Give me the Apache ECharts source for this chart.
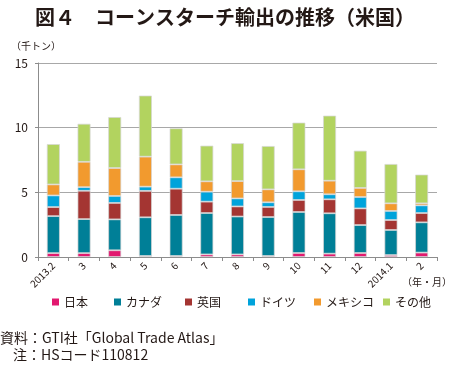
<!DOCTYPE html>
<html><head><meta charset="utf-8">
<script src="https://cdn.jsdelivr.net/npm/echarts@6/dist/echarts.min.js"></script>
<style>html,body{margin:0;padding:0;background:#fff}#c{width:450px;height:366px}</style>
</head><body><div id="c"></div>
<script>
const categories = ['2013.2','3','4','5','6','7','8','9','10','11','12','2014.1','2'];
const seriesNames = ['日本','カナダ','英国','ドイツ','メキシコ','その他'];
const japan   = [0.30, 0.30, 0.52, 0.08, 0.08, 0.20, 0.20, 0.08, 0.31, 0.26, 0.31, 0.15, 0.34];
const canada  = [2.86, 2.63, 2.39, 2.99, 3.17, 3.20, 2.93, 3.01, 3.17, 3.12, 2.16, 1.94, 2.34];
const uk      = [0.70, 2.19, 1.27, 2.04, 2.03, 0.88, 0.78, 0.78, 0.93, 1.08, 1.29, 0.77, 0.72];
const germany = [0.90, 0.28, 0.54, 0.33, 0.88, 0.77, 0.62, 0.36, 0.67, 0.39, 0.88, 0.70, 0.59];
const mexico  = [0.85, 1.96, 2.16, 2.32, 1.00, 0.80, 1.34, 1.00, 1.70, 1.05, 0.70, 0.59, 0.16];
const others  = [3.12, 2.94, 3.94, 4.72, 2.79, 2.76, 2.93, 3.35, 3.61, 5.03, 2.88, 3.04, 2.22];
const yMin = 0, yMax = 15, yInterval = 5;

const seriesValues = [japan, canada, uk, germany, mexico, others];
const colors = ['#e2186f','#007f97','#a43532','#00a3db','#f29a2e','#b2d35f'];
const FONT = '"Noto Sans CJK JP","Noto Sans",sans-serif';
const legendLefts = [52, 114, 185, 248, 314, 383];

const chart = echarts.init(document.getElementById('c'), null, {renderer:'canvas'});
chart.setOption({
  animation: false,
  textStyle: {fontFamily: FONT},
  title: {
    text: '図４　コーンスターチ輸出の推移（米国）',
    left: 'center', top: 2,
    textStyle: {fontFamily: FONT, fontSize: 20, fontWeight: 'bold', color: '#231815'}
  },
  grid: {left: 38, right: 13, top: 63, bottom: 109, containLabel: false},
  legend: seriesNames.map((n, i) => ({
    data: [n], left: legendLefts[i], top: 296, padding: 0,
    icon: 'rect', itemWidth: 7, itemHeight: 7, itemGap: 4,
    itemStyle: {borderWidth: 0},
    textStyle: {fontFamily: FONT, fontSize: 12, color: '#231815'}
  })),
  xAxis: {
    type: 'category', data: categories,
    axisLine: {lineStyle: {color: '#8c8c8c', width: 1}},
    axisTick: {show: true, length: 4, lineStyle: {color: '#8c8c8c'}},
    axisLabel: {interval: 0, rotate: 45, fontSize: 10, color: '#231815', margin: 7, fontFamily: FONT}
  },
  yAxis: {
    type: 'value', min: yMin, max: yMax, interval: yInterval,
    axisLine: {show: true, lineStyle: {color: '#8c8c8c', width: 1}},
    axisTick: {show: true, length: 3, lineStyle: {color: '#8c8c8c'}},
    axisLabel: {fontSize: 12, color: '#231815', margin: 10, fontFamily: FONT},
    splitLine: {lineStyle: {color: '#a8a8a8', width: 1}}
  },
  series: seriesNames.map((n, i) => ({
    name: n, type: 'bar', stack: 'total', data: seriesValues[i],
    barWidth: 13,
    itemStyle: {color: colors[i], borderColor: 'rgba(215,215,215,0.9)', borderWidth: 0.8}
  })),
  graphic: [
    {type: 'text', left: 11, top: 41, style: {text: '（千トン）', font: '10px ' + FONT, fill: '#231815'}},
    {type: 'text', left: 402, top: 277, style: {text: '（年・月）', font: '10px ' + FONT, fill: '#231815'}},
    {type: 'text', left: 0, top: 331, style: {text: '資料：GTI社「Global Trade Atlas」', font: '14px ' + FONT, fill: '#231815'}},
    {type: 'text', left: 13, top: 348, style: {text: '注：HSコード110812', font: '14px ' + FONT, fill: '#231815'}}
  ]
});
</script></body></html>
